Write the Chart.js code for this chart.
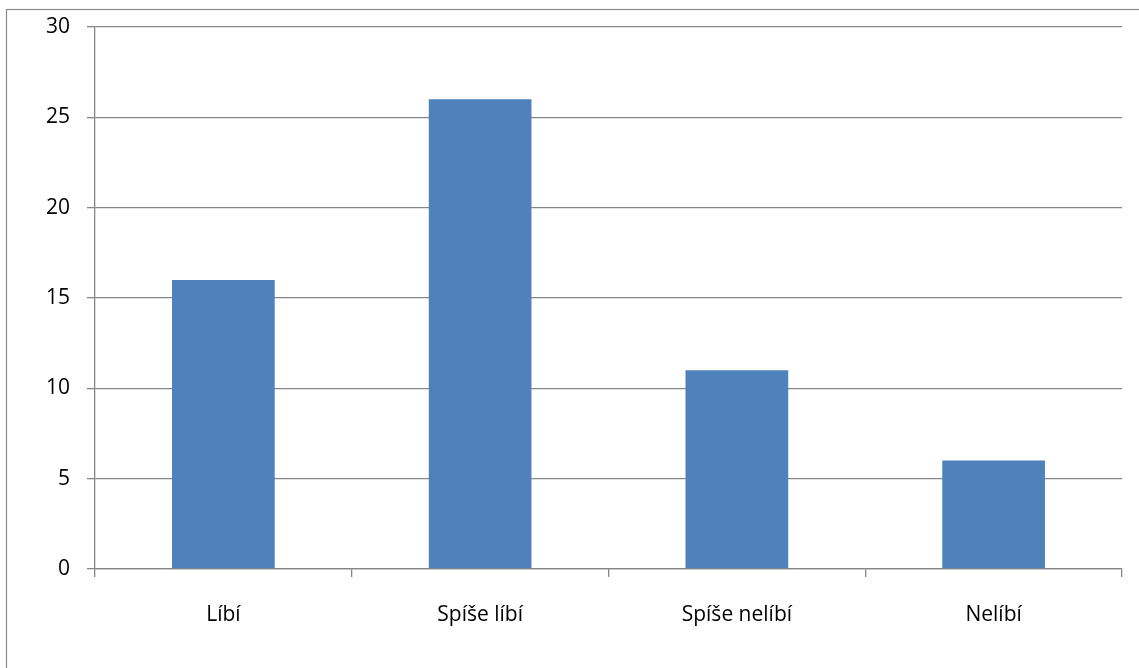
<!DOCTYPE html>
<html>
<head>
<meta charset="utf-8">
<script src="https://cdn.jsdelivr.net/npm/chart.js@4/dist/chart.umd.min.js"></script>
<style>
  html, body { margin: 0; padding: 0; background: #fff; }
  #wrap { position: relative; width: 1139px; height: 668px; }
</style>
</head>
<body>
<div id="wrap"><canvas id="c" width="1139" height="668"></canvas></div>
<script>
const categories = ['Líbí', 'Spíše líbí', 'Spíše nelíbí', 'Nelíbí'];
const counts = [16, 26, 11, 6];
const yTicks = [0, 5, 10, 15, 20, 25, 30];

const gridColor = '#868686';
const labelFont = { family: 'Open Sans', size: 21 };

// Outer chart frame (open to the right and bottom edge of the canvas)
const framePlugin = {
  id: 'frame',
  beforeDraw(chart) {
    const ctx = chart.ctx;
    ctx.save();
    ctx.strokeStyle = '#878787';
    ctx.lineWidth = 1.2;
    ctx.strokeRect(6.5, 9.5, 1200, 700);
    ctx.restore();
  }
};

new Chart(document.getElementById('c'), {
  type: 'bar',
  data: {
    labels: categories,
    datasets: [{
      data: counts,
      backgroundColor: '#4F81BD',
      borderWidth: 0,
      barPercentage: 0.4,
      categoryPercentage: 1.0
    }]
  },
  plugins: [framePlugin],
  options: {
    responsive: false,
    animation: false,
    layout: { padding: { left: 0, top: 27, right: 17, bottom: 0 } },
    plugins: { legend: { display: false }, tooltip: { enabled: false } },
    scales: {
      x: {
        afterFit(axis) { axis.height = 99; },
        grid: {
          offset: true,
          drawOnChartArea: false,
          drawTicks: true,
          tickLength: 8,
          color: gridColor,
          lineWidth: 1.3
        },
        border: { display: true, color: gridColor, width: 1.3 },
        ticks: {
          color: '#000',
          padding: 25,
          font: labelFont
        }
      },
      y: {
        min: 0,
        max: 30,
        afterFit(axis) {
          axis.width = 95;
          axis.paddingTop = 0;
          axis.paddingBottom = 0;
        },
        afterBuildTicks(axis) { axis.ticks = yTicks.map(v => ({ value: v })); },
        grid: {
          color: gridColor,
          lineWidth: 1.3,
          drawTicks: true,
          tickLength: 8
        },
        border: { display: true, color: gridColor, width: 1.3 },
        ticks: {
          color: '#000',
          padding: 17,
          font: { family: 'Open Sans', size: 21, lineHeight: 1.0 }
        }
      }
    }
  }
});
</script>
</body>
</html>
